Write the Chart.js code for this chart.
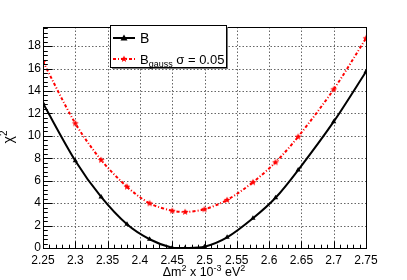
<!DOCTYPE html>
<html>
<head>
<meta charset="utf-8">
<script src="https://cdn.jsdelivr.net/npm/chart.js@4/dist/chart.umd.min.js"></script>
<style>
html,body{margin:0;padding:0;background:#fff;}
#wrap{width:407px;height:280px;position:relative;}
</style>
</head>
<body>
<div id="wrap"><canvas id="c" width="407" height="280"></canvas></div>
<script>
// ---- data ----
const xValues     = [2.25, 2.30, 2.34, 2.38, 2.415, 2.45, 2.47, 2.50, 2.535, 2.575, 2.61, 2.645, 2.70, 2.75];
const bValues     = [12.9, 7.78, 4.55, 2.11, 0.78, 0.02, 0.0, 0.12, 0.95, 2.65, 4.48, 6.95, 11.26, 15.71];
const gaussValues = [16.6, 11.11, 7.84, 5.46, 3.98, 3.32, 3.21, 3.45, 4.28, 5.86, 7.64, 9.92, 14.14, 18.69];
const xTickValues = [2.25, 2.30, 2.35, 2.40, 2.45, 2.50, 2.55, 2.60, 2.65, 2.70, 2.75];
const xTickLabels = ['2.25','2.3','2.35','2.4','2.45','2.5','2.55','2.6','2.65','2.7','2.75'];
const yTickValues = [0, 2, 4, 6, 8, 10, 12, 14, 16, 18];
const yTickLabels = ['0','2','4','6','8','10','12','14','16','18'];
const seriesNames = ['B', 'B_gauss'];

const FONT = "'Liberation Sans', Arial, Helvetica, sans-serif";

// filled star marker (ROOT style 29)
function makeStar(r, color){
  const s = Math.ceil(r*2)+2;
  const cv = document.createElement('canvas');
  cv.width = s; cv.height = s;
  const g = cv.getContext('2d');
  g.fillStyle = color;
  g.beginPath();
  for(let i=0;i<10;i++){
    const ang = -Math.PI/2 + i*Math.PI/5;
    const rr = (i%2===0)? r : r*0.45;
    const px = s/2 + rr*Math.cos(ang), py = s/2 + rr*Math.sin(ang);
    if(i===0) g.moveTo(px,py); else g.lineTo(px,py);
  }
  g.closePath(); g.fill();
  return cv;
}
const starImg = makeStar(3.6, '#ff0000');

function drawRich(ctx, parts, x, y, size, align, smallRatio){
  const small = Math.round(size*(smallRatio||0.7));
  let total = 0;
  const widths = parts.map(p=>{
    ctx.font = (p[1]? small : size) + 'px ' + FONT;
    const w = ctx.measureText(p[0]).width; total += w; return w;
  });
  let cx = align==='center' ? x - total/2 : x;
  ctx.textBaseline = 'alphabetic';
  ctx.textAlign = 'left';
  parts.forEach((p,i)=>{
    ctx.font = (p[1]? small : size) + 'px ' + FONT;
    const dy = p[1]===1 ? -size*0.42 : (p[1]===-1 ? size*0.3 : 0);
    ctx.fillText(p[0], cx, y+dy);
    cx += widths[i];
  });
}

const rootPlugin = {
  id: 'rootStyle',
  beforeDatasetsDraw(chart){
    const {ctx, chartArea:a, scales:{x, y}} = chart;
    ctx.save();
    ctx.strokeStyle = '#666';
    ctx.lineWidth = 1;
    ctx.setLineDash([1.5, 2]);
    xTickValues.forEach(v=>{
      const px = Math.round(x.getPixelForValue(v))+0.5;
      ctx.beginPath(); ctx.moveTo(px, a.top); ctx.lineTo(px, a.bottom); ctx.stroke();
    });
    yTickValues.forEach(v=>{
      const py = Math.round(y.getPixelForValue(v))+0.5;
      ctx.beginPath(); ctx.moveTo(a.left, py); ctx.lineTo(a.right, py); ctx.stroke();
    });
    ctx.restore();
  },
  afterDatasetsDraw(chart){
    const {ctx, chartArea:a, scales:{x, y}} = chart;
    ctx.save();
    ctx.setLineDash([]);
    ctx.strokeStyle = '#000';
    ctx.lineWidth = 1;
    // x ticks (inside, from bottom)
    const xMin = xTickValues[0], xMax = xTickValues[xTickValues.length-1];
    for(let k=0; k<=Math.round((xMax-xMin)/0.01); k++){
      const v = xMin + k*0.01;
      const major = k%5===0;
      const px = Math.round(x.getPixelForValue(v))+0.5;
      const len = major ? 6.6 : 3.3;
      ctx.beginPath(); ctx.moveTo(px, a.bottom); ctx.lineTo(px, a.bottom-len); ctx.stroke();
    }
    // y ticks (inside, from left)
    for(let k=0; k*0.4 <= y.max+1e-6; k++){
      const v = k*0.4;
      const major = k%5===0;
      const py = Math.round(y.getPixelForValue(v))+0.5;
      const len = major ? 9.7 : 4.8;
      ctx.beginPath(); ctx.moveTo(a.left, py); ctx.lineTo(a.left+len, py); ctx.stroke();
    }
    // frame
    ctx.strokeRect(Math.round(a.left)+0.5, Math.round(a.top)+0.5, Math.round(a.right-a.left), Math.round(a.bottom-a.top));

    // axis titles
    ctx.fillStyle = '#000';
    drawRich(ctx, [['\u0394m',0],['2',1],[' x 10',0],['-3',1],[' eV',0],['2',1]], 204, 276, 12.5, 'center');
    ctx.save();
    ctx.translate(13, 137);
    ctx.rotate(-Math.PI/2);
    drawRich(ctx, [['\u03C7',0],['2',1]], 0, 0, 14, 'center');
    ctx.restore();

    // legend
    const L = 110, T = 25, W = 116, H = 42;
    ctx.fillStyle = '#777';
    ctx.fillRect(L+2, T+2, W, H);
    ctx.fillStyle = '#fff';
    ctx.fillRect(L, T, W, H);
    ctx.strokeStyle = '#000';
    ctx.strokeRect(L+0.5, T+0.5, W, H);
    const y1 = 38, y2 = 59;
    ctx.lineWidth = 2;
    ctx.beginPath(); ctx.moveTo(113, y1); ctx.lineTo(135, y1); ctx.stroke();
    ctx.fillStyle = '#000';
    ctx.beginPath(); ctx.moveTo(124, y1-3.5); ctx.lineTo(127.5, y1+2.5); ctx.lineTo(120.5, y1+2.5); ctx.closePath(); ctx.fill();
    ctx.font = '14px ' + FONT;
    ctx.textBaseline = 'middle'; ctx.textAlign = 'left';
    ctx.fillText(seriesNames[0], 140, y1+1);
    ctx.strokeStyle = '#ff0000';
    ctx.setLineDash([3,2,1,2]);
    ctx.beginPath(); ctx.moveTo(113, y2); ctx.lineTo(135, y2); ctx.stroke();
    ctx.setLineDash([]);
    ctx.drawImage(starImg, 124 - starImg.width/2, y2 - starImg.height/2);
    ctx.fillStyle = '#000';
    drawRich(ctx, [['B',0],['gauss',-1],[' \u03C3 = 0.05',0]], 140, y2+4.5, 13, 'left', 0.68);
    ctx.restore();
  }
};

new Chart(document.getElementById('c'), {
  type: 'scatter',
  data: {
    datasets: [
      {
        label: seriesNames[0],
        data: xValues.map((v,i)=>({x:v, y:bValues[i]})),
        showLine: true,
        borderColor: '#000',
        backgroundColor: '#000',
        borderWidth: 2,
        pointStyle: 'triangle',
        pointRadius: 3,
        pointBorderWidth: 0,
        tension: 0.3,
        order: 1
      },
      {
        label: seriesNames[1],
        data: xValues.map((v,i)=>({x:v, y:gaussValues[i]})),
        showLine: true,
        borderColor: '#ff0000',
        backgroundColor: '#ff0000',
        borderWidth: 2,
        borderDash: [3,2,1,2],
        pointStyle: starImg,
        pointRadius: 3.6,
        tension: 0.3,
        order: 2
      }
    ]
  },
  options: {
    responsive: false,
    animation: false,
    devicePixelRatio: 1,
    layout: { padding: { top: 27, right: 41, left: 0, bottom: 0 } },
    plugins: { legend: { display: false }, tooltip: { enabled: false }, title: { display: false } },
    scales: {
      x: {
        type: 'linear',
        min: 2.25, max: 2.75,
        afterBuildTicks: s => { s.ticks = xTickValues.map(v=>({value:v})); },
        afterFit: s => { s.height = 32; },
        grid: { display: false, drawTicks: false },
        border: { display: false },
        ticks: {
          padding: 5,
          maxRotation: 0, autoSkip: false,
          color: '#000',
          font: { family: FONT, size: 12 },
          callback: (v) => { const i = xTickValues.findIndex(t=>Math.abs(t-v)<1e-6); return i>=0 ? xTickLabels[i] : ''; }
        }
      },
      y: {
        type: 'linear',
        min: 0, max: 19.7,
        afterBuildTicks: s => { s.ticks = yTickValues.map(v=>({value:v})); },
        afterFit: s => { s.width = 43; },
        grid: { display: false, drawTicks: false },
        border: { display: false },
        ticks: {
          padding: 2,
          autoSkip: false,
          color: '#000',
          font: { family: FONT, size: 12 },
          callback: (v) => { const i = yTickValues.indexOf(v); return i>=0 ? yTickLabels[i] : ''; }
        }
      }
    }
  },
  plugins: [rootPlugin]
});
</script>
</body>
</html>
